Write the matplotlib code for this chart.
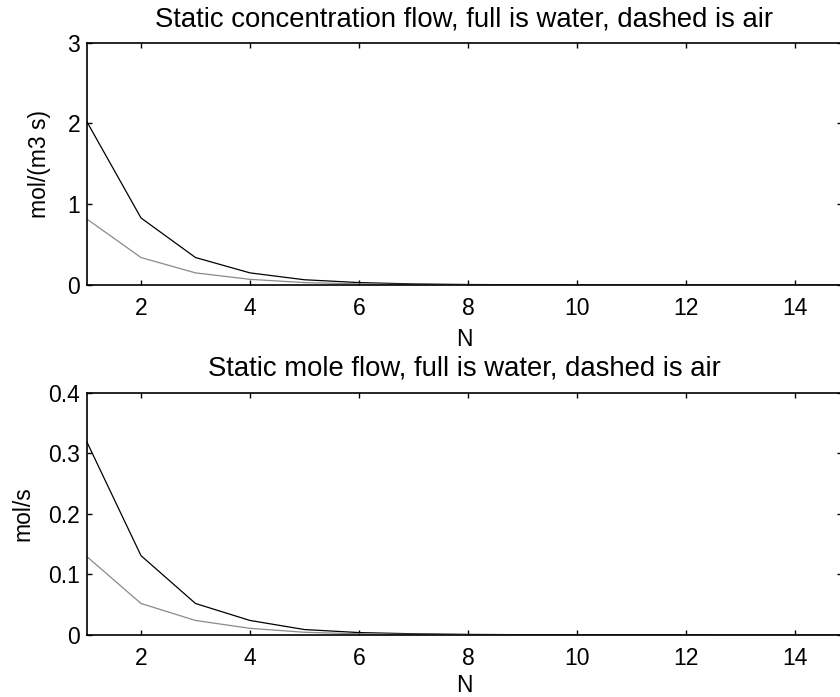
import numpy as np
import matplotlib
matplotlib.use('Agg')
import matplotlib.pyplot as plt

plt.rcParams['font.family'] = 'Liberation Sans'
plt.rcParams['font.size'] = 16.5

# stage number
N = np.arange(1, 16)

# static concentration flow, mol/(m3 s)
conc_water = [2.03, 0.83, 0.34, 0.15, 0.065, 0.03, 0.013, 0.006, 0.003,
              0.0015, 0.0007, 0.0003, 0.0002, 0.0001, 0.00005]
conc_air = [0.82, 0.34, 0.15, 0.07, 0.03, 0.013, 0.006, 0.003, 0.0015,
            0.0007, 0.0003, 0.0002, 0.0001, 0.00005, 0.00002]

# static mole flow, mol/s
mole_water = [0.32, 0.131, 0.052, 0.024, 0.009, 0.004, 0.002, 0.001, 0.0005,
              0.0002, 0.0001, 0.00005, 0.00002, 0.00001, 0.00001]
mole_air = [0.130, 0.052, 0.024, 0.011, 0.0045, 0.002, 0.001, 0.0005, 0.0002,
            0.0001, 0.00005, 0.00002, 0.00001, 0.00001, 0.0]

W, H = 840, 697
fig = plt.figure(figsize=(W / 100, H / 100), dpi=100)

x0, x1 = 86.5, 842
left = x0 / W
width = (x1 - x0) / W
ax_h = 285 - 42.7
ax1 = fig.add_axes([left, (H - 285) / H, width, ax_h / H])
ax2 = fig.add_axes([left, (H - 635) / H, width, ax_h / H])

# 54.5 px per unit of N
xmax = 1 + (x1 - x0) / 54.5


def style(ax, ylab_px, xlab_px):
    ax.set_xlim(1, xmax)
    ax.set_xticks([2, 4, 6, 8, 10, 12, 14])
    ax.tick_params(direction='in', length=3.5, width=1, top=True, right=True)
    ax.tick_params(axis='x', pad=8.6)
    ax.tick_params(axis='y', pad=4.5)
    for s in ax.spines.values():
        s.set_linewidth(1.2)
    ax.set_xlabel('N')
    ax.xaxis.set_label_coords(0.5, -xlab_px / ax_h)
    ax.xaxis.label.set_va('top')
    ax.yaxis.set_label_coords((ylab_px - x0) / (x1 - x0), 0.5)


ax1.plot(N, conc_water, color='black', lw=0.9)
ax1.plot(N, conc_air, color='#8a8a8a', lw=0.9)
ax1.set_ylim(0, 3)
ax1.set_yticks([0, 1, 2, 3])
ax1.set_ylabel('mol/(m3 s)')
ax1.set_title('Static concentration flow, full is water, dashed is air', pad=12)
style(ax1, 51, 43)

ax2.plot(N, mole_water, color='black', lw=0.9)
ax2.plot(N, mole_air, color='#8a8a8a', lw=0.9)
ax2.set_ylim(0, 0.4)
ax2.set_yticks([0, 0.1, 0.2, 0.3, 0.4])
ax2.set_yticklabels(['0', '0.1', '0.2', '0.3', '0.4'])
ax2.set_ylabel('mol/s')
ax2.set_title('Static mole flow, full is water, dashed is air', pad=12.5)
style(ax2, 34.5, 39.5)

fig.savefig('out.png', dpi=100)
